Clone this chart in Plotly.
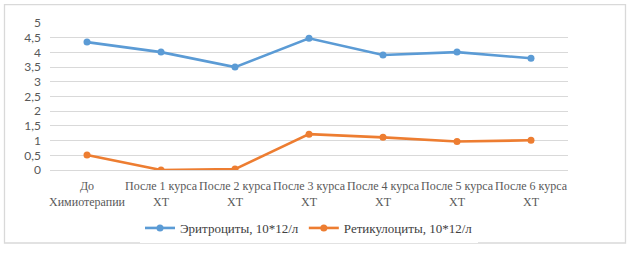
import plotly.graph_objects as go

categories = ["До<br>Химиотерапии", "После 1 курса<br>ХТ", "После 2 курса<br>ХТ",
              "После 3 курса<br>ХТ", "После 4 курса<br>ХТ", "После 5 курса<br>ХТ",
              "После 6 курса<br>ХТ"]
erythro = [4.35, 4.01, 3.50, 4.48, 3.91, 4.01, 3.80]
retic = [0.51, 0.00, 0.03, 1.22, 1.11, 0.97, 1.01]
y_ticks = [0, 0.5, 1, 1.5, 2, 2.5, 3, 3.5, 4, 4.5, 5]
y_tick_labels = ["0", "0,5", "1", "1,5", "2", "2,5", "3", "3,5", "4", "4,5", "5"]

W, H = 633, 253
L, R, T, B = 50, 65, 23, 82
pw, ph = W - L - R, H - T - B

fig = go.Figure()
fig.add_trace(go.Scatter(x=categories, y=erythro, mode="lines+markers",
                         name="Эритроциты, 10*12/л",
                         line=dict(color="#5B9BD5", width=2.6),
                         marker=dict(color="#5B9BD5", size=7)))
fig.add_trace(go.Scatter(x=categories, y=retic, mode="lines+markers",
                         name="Ретикулоциты, 10*12/л",
                         line=dict(color="#ED7D31", width=2.6),
                         marker=dict(color="#ED7D31", size=7)))

def px_to_paper_x(px):
    return (px - L) / pw

def px_to_paper_y(py):
    return (H - B - py) / ph

fig.add_shape(type="rect", xref="paper", yref="paper",
              x0=px_to_paper_x(4.5), x1=px_to_paper_x(625.5),
              y0=px_to_paper_y(244.5), y1=px_to_paper_y(4.5),
              line=dict(color="#D9D9D9", width=1.3), layer="below")

fig.update_layout(
    width=W, height=H,
    margin=dict(l=L, r=R, t=T, b=B),
    plot_bgcolor="white", paper_bgcolor="white",
    showlegend=True,
    legend=dict(orientation="h", x=0.5, xanchor="center",
                y=px_to_paper_y(228), yanchor="middle",
                font=dict(family="Liberation Serif", size=13, color="#404040"),
                itemwidth=30, tracegroupgap=0),
    xaxis=dict(showgrid=False, showline=False, zeroline=False, ticks="",
               tickangle=0, automargin=False, ticklabelstandoff=7,
               tickfont=dict(family="Liberation Serif", size=12, color="#595959"),
               range=[-0.5, len(categories) - 0.5]),
    yaxis=dict(range=[0, 5], tickvals=y_ticks, ticktext=y_tick_labels,
               showgrid=True, gridcolor="#D9D9D9", gridwidth=1,
               zeroline=True, zerolinecolor="#D9D9D9", zerolinewidth=1,
               showline=False, ticks="", ticklabelstandoff=8, automargin=False,
               tickfont=dict(family="Lato", size=12, color="#595959")),
)

fig.write_html("out.html", config={"displayModeBar": False},
               post_script="document.body.style.margin='0';document.body.style.overflow='hidden';")
